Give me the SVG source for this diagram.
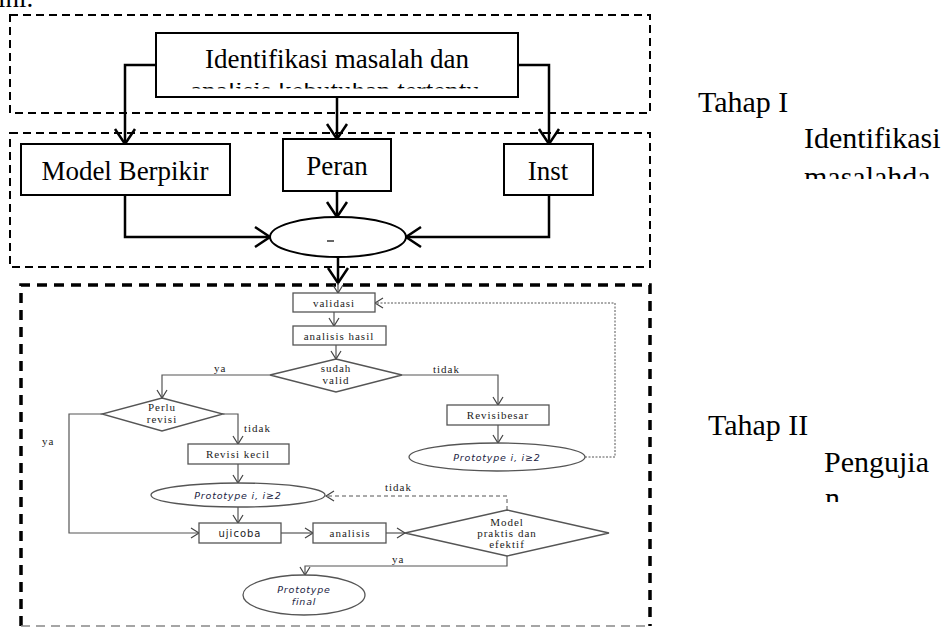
<svg xmlns="http://www.w3.org/2000/svg" width="949" height="628" viewBox="0 0 949 628">
<style>
.dash1{fill:none;stroke:#000;stroke-width:2;stroke-dasharray:8 5}
.dash3{fill:none;stroke:#000;stroke-width:3.5;stroke-dasharray:10 7}
.box{fill:#fff;stroke:#000;stroke-width:2}
.big{fill:none;stroke:#000;stroke-width:2.5}
.t27{font-family:"Liberation Serif","Times New Roman",serif;font-size:27px;fill:#000}
.t30{font-family:"Liberation Serif","Times New Roman",serif;font-size:30px;fill:#000}
.fc{fill:#fff;stroke:#555;stroke-width:1.3}
.fl{fill:none;stroke:#555;stroke-width:1.2}
.fd{fill:none;stroke:#555;stroke-width:1;stroke-dasharray:4 3}
.fdot{fill:none;stroke:#555;stroke-width:1;stroke-dasharray:2 1.5}
.ft{font-family:"Liberation Serif",serif;font-size:11px;letter-spacing:1px;fill:#222}
.fs{font-family:"DejaVu Sans",sans-serif;font-size:10px;letter-spacing:1px;fill:#222}
.pt{font-family:"DejaVu Sans",sans-serif;font-style:italic;font-size:9.5px;letter-spacing:0.8px;fill:#1c2444}
</style>
<defs>
<marker id="bigV" markerUnits="userSpaceOnUse" markerWidth="20" markerHeight="24" refX="0" refY="0" orient="auto" overflow="visible"><path d="M-15,-10 L0,0 L-15,10" fill="none" stroke="#000" stroke-width="2.5"/></marker>
<marker id="smV" markerUnits="userSpaceOnUse" markerWidth="10" markerHeight="12" refX="0" refY="0" orient="auto" overflow="visible"><path d="M-8,-5 L0,0 L-8,5" fill="none" stroke="#444" stroke-width="1.2"/></marker>
<clipPath id="clipA"><rect x="150" y="83" width="380" height="5.5"/></clipPath>
<clipPath id="clipB"><rect x="790" y="160" width="159" height="19"/></clipPath>
<clipPath id="clipC"><rect x="810" y="485" width="60" height="17"/></clipPath>
</defs>
<rect width="949" height="628" fill="#fff"/>

<text class="t27" x="-2" y="7">ini.</text>

<g id="frames">
<rect class="dash1" x="10" y="15" width="640" height="98"/>
<rect class="dash1" x="10" y="133" width="640" height="134"/>
<path class="dash3" d="M21,626 L21,285 L650,285 L650,626"/>
<line x1="21" y1="626" x2="650" y2="626" stroke="#888" stroke-width="1.5" stroke-dasharray="9 6"/>
</g>

<g id="connectors">
<path class="big" d="M156,65 H125 V144" marker-end="url(#bigV)"/>
<path class="big" d="M337,97 V139" marker-end="url(#bigV)"/>
<path class="big" d="M518,65 H549 V144" marker-end="url(#bigV)"/>
<path class="big" d="M125,195 V237 H270" marker-end="url(#bigV)"/>
<path class="big" d="M337,191 V217" marker-end="url(#bigV)"/>
<path class="big" d="M549,195 V237 H406" marker-end="url(#bigV)"/>
<path class="big" d="M338,257 V283" marker-end="url(#bigV)"/>
<path class="fl" d="M338,283 V293" marker-end="url(#smV)"/>
<path class="fl" d="M334,312 V326" marker-end="url(#smV)"/>
<path class="fl" d="M336,345 V359" marker-end="url(#smV)"/>
<path class="fl" d="M270,375 H162 V398" marker-end="url(#smV)"/>
<path class="fl" d="M223,414 H238 V444" marker-end="url(#smV)"/>
<path class="fl" d="M102,414 H69 V533 H199" marker-end="url(#smV)"/>
<path class="fl" d="M238,464 V483" marker-end="url(#smV)"/>
<path class="fl" d="M238,507 V523" marker-end="url(#smV)"/>
<path class="fl" d="M281,533 H313" marker-end="url(#smV)"/>
<path class="fl" d="M386,533 H405" marker-end="url(#smV)"/>
<path class="fd" d="M507,510 V496 H326" marker-end="url(#smV)"/>
<path class="fl" d="M507,556 V566 H305 V575" marker-end="url(#smV)"/>
<path class="fl" d="M402,375 H498 V405" marker-end="url(#smV)"/>
<path class="fl" d="M498,425 V443" marker-end="url(#smV)"/>
<path class="fdot" d="M585,457 H615 V303 H375" marker-end="url(#smV)"/>
<text class="ft" x="214" y="372">ya</text>
<text class="ft" x="42" y="445">ya</text>
<text class="ft" x="244" y="432">tidak</text>
<text class="ft" x="433" y="373">tidak</text>
<text class="ft" x="385" y="491">tidak</text>
<text class="ft" x="392" y="563">ya</text>
</g>

<g id="n-identifikasi">
<rect class="box" x="156" y="33" width="362" height="64"/>
<text class="t27" x="337" y="68" text-anchor="middle">Identifikasi masalah dan</text>
<text class="t27" x="335" y="100" text-anchor="middle" clip-path="url(#clipA)">analisis kebutuhan tertentu</text>
</g>
<g id="n-model">
<rect class="box" x="21" y="144" width="209" height="51"/>
<text class="t27" x="125" y="180" text-anchor="middle">Model Berpikir</text>
</g>
<g id="n-peran">
<rect class="box" x="283" y="139" width="108" height="52"/>
<text class="t27" x="337" y="175" text-anchor="middle">Peran</text>
</g>
<g id="n-inst">
<rect class="box" x="504" y="144" width="89" height="51"/>
<text class="t27" x="548" y="180" text-anchor="middle">Inst</text>
</g>
<g id="n-ellipse">
<ellipse class="box" cx="338" cy="237" rx="68" ry="20"/>
<line x1="327" y1="241" x2="334" y2="241" stroke="#000" stroke-width="1.2"/>
</g>

<g id="labels">
<text class="t30" x="698" y="112">Tahap I</text>
<text class="t30" x="804" y="148">Identifikasi</text>
<text class="t30" x="804" y="187" clip-path="url(#clipB)">masalahda</text>
<text class="t30" x="708" y="435">Tahap II</text>
<text class="t30" x="824" y="472">Pengujia</text>
<text class="t30" x="825" y="508" clip-path="url(#clipC)">n</text>
</g>

<g id="n-validasi">
<rect class="fc" x="293" y="293" width="82" height="19"/>
<text class="ft" x="334" y="307" text-anchor="middle">validasi</text>
</g>
<g id="n-analisis-hasil">
<rect class="fc" x="293" y="326" width="93" height="19"/>
<text class="ft" x="339" y="340" text-anchor="middle">analisis hasil</text>
</g>
<g id="n-sudah-valid">
<polygon class="fc" points="336,359 402,375 336,392 270,375"/>
<text class="ft" x="336" y="372" text-anchor="middle">sudah</text>
<text class="ft" x="336" y="384" text-anchor="middle">valid</text>
</g>
<g id="n-perlu-revisi">
<polygon class="fc" points="162,398 223,414 162,431 102,414"/>
<text class="ft" x="162" y="411" text-anchor="middle">Perlu</text>
<text class="ft" x="162" y="423" text-anchor="middle">revisi</text>
</g>
<g id="n-revisi-kecil">
<rect class="fc" x="188" y="444" width="101" height="20"/>
<text class="ft" x="238" y="458" text-anchor="middle">Revisi kecil</text>
</g>
<g id="n-prototype-1">
<ellipse class="fc" cx="238" cy="495" rx="87" ry="12"/>
<text class="pt" x="238" y="499" text-anchor="middle">Prototype i, i≥2</text>
</g>
<g id="n-ujicoba">
<rect class="fc" x="199" y="523" width="82" height="20"/>
<text class="fs" x="240" y="537" text-anchor="middle">ujicoba</text>
</g>
<g id="n-analisis">
<rect class="fc" x="313" y="523" width="73" height="20"/>
<text class="ft" x="350" y="537" text-anchor="middle">analisis</text>
</g>
<g id="n-model-praktis">
<polygon class="fc" points="507,510 609,533 507,556 405,533"/>
<text class="ft" x="507" y="526" text-anchor="middle">Model</text>
<text class="ft" x="507" y="537" text-anchor="middle">praktis dan</text>
<text class="ft" x="507" y="548" text-anchor="middle">efektif</text>
</g>
<g id="n-prototype-final">
<ellipse class="fc" cx="304" cy="595" rx="61" ry="20"/>
<text class="pt" x="304" y="593" text-anchor="middle">Prototype</text>
<text class="pt" x="304" y="605" text-anchor="middle">final</text>
</g>
<g id="n-revisi-besar">
<rect class="fc" x="447" y="405" width="102" height="20"/>
<text class="ft" x="498" y="419" text-anchor="middle">Revisibesar</text>
</g>
<g id="n-prototype-2">
<ellipse class="fc" cx="497" cy="457" rx="88" ry="14"/>
<text class="pt" x="497" y="461" text-anchor="middle">Prototype i, i≥2</text>
</g>
</svg>
